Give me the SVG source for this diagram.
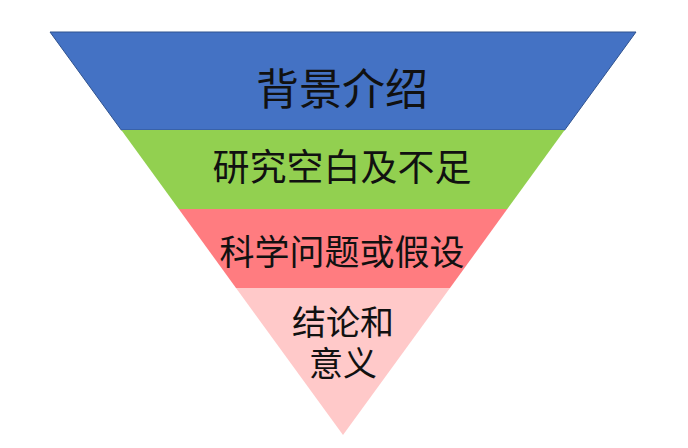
<svg xmlns="http://www.w3.org/2000/svg" width="688" height="448" viewBox="0 0 688 448">
<style>
.t{font-family:"Noto Sans CJK SC","Noto Sans CJK JP",sans-serif;fill:#111;text-anchor:middle}
.t2{font-family:"Liberation Sans","Noto Sans CJK SC",sans-serif;fill:#111;text-anchor:middle}
</style>
<rect width="688" height="448" fill="#fff"/>
<g id="layer-background">
<polygon points="50,32 636,32 564.7,130 121.3,130" fill="#4472C4" stroke="#2F528F" stroke-width="1"/>
<text class="t" x="342" y="105" font-size="43">背景介绍</text>
</g>
<g id="layer-gap">
<polygon points="121.3,130 564.7,130 507.3,209 178.7,209" fill="#92D050"/>
<text class="t" x="342" y="181" font-size="37">研究空白及不足</text>
</g>
<g id="layer-question">
<polygon points="178.7,209 507.3,209 450,288 236,288" fill="#FF7C80"/>
<text class="t" x="342" y="265" font-size="35">科学问题或假设</text>
</g>
<g id="layer-conclusion">
<polygon points="236,288 450,288 343,435" fill="#FFC9C9"/>
<text class="t2" font-size="34"><tspan x="343" y="335">结论和</tspan><tspan x="343" y="376">意义</tspan></text>
</g>
<g id="connectors"></g>
</svg>
